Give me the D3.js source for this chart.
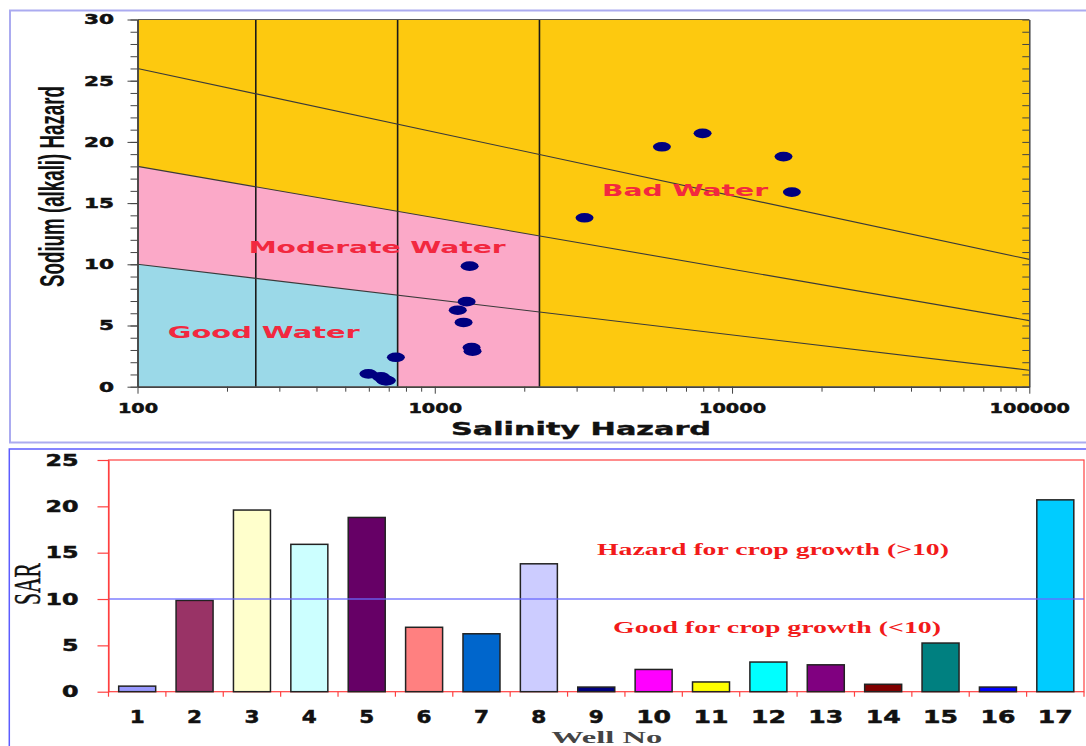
<!DOCTYPE html>
<html>
<head>
<meta charset="utf-8">
<script src="https://cdn.jsdelivr.net/npm/d3@7"></script>
<style>
body { margin: 0; background: #fff; }
svg { display: block; }
</style>
</head>
<body>
<svg id="chart"></svg>
<script>
// ---------- data ----------
var wells = ["1","2","3","4","5","6","7","8","9","10","11","12","13","14","15","16","17"];
var sar = [0.6, 9.85, 19.6, 15.9, 18.8, 6.95, 6.25, 13.8, 0.5, 2.4, 1.05, 3.2, 2.9, 0.8, 5.25, 0.5, 20.7];
var ec = [675, 1310, 5810, 15900, 14900, 1280, 1195, 3190, 690, 740, 598, 1330, 1340, 659, 1250, 682, 7960];
var barColors = ["#9999FF","#993366","#FFFFCC","#CCFFFF","#660066","#FF8080","#0066CC","#CCCCFF",
                 "#000080","#FF00FF","#FFFF00","#00FFFF","#800080","#800000","#008080","#0000FF","#00CCFF"];
var salinityBreaks = [250, 750, 2250];
var sodiumAt100 = [10, 18, 26];        // SAR of each class line at EC 100
var sodiumAt100000 = [1.35, 5.4, 10.4]; // SAR of each class line at EC 100000
var ecTicks = [100, 1000, 10000, 100000];
var sarTicksTop = [0, 5, 10, 15, 20, 25, 30];
var sarTicksBar = [0, 5, 10, 15, 20, 25];
var sarLimit = 10;

var svg = d3.select("#chart").attr("width", 1086).attr("height", 746);

// panel frames
svg.append("rect").attr("x", 10).attr("y", 10.5).attr("width", 1100).attr("height", 432)
  .attr("fill", "none").attr("stroke", "#ABABF0").attr("stroke-width", 2);
svg.append("rect").attr("x", 9.3).attr("y", 449).attr("width", 1100).attr("height", 400)
  .attr("fill", "none").attr("stroke", "#5C5CFF").attr("stroke-width", 1.5);

// ---------- upper: salinity / sodium diagram ----------
var x = d3.scaleLog().domain([100, 100000]).range([137.5, 1029.3]);
var y = d3.scaleLinear().domain([0, 30]).range([386.7, 19.5]);

var classLine = function (i, v) {
  var t = (Math.log10(v) - 2) / 3;
  return sodiumAt100[i] + (sodiumAt100000[i] - sodiumAt100[i]) * t;
};

var upper = svg.append("g");
upper.append("rect")
  .attr("x", x(100)).attr("y", y(30))
  .attr("width", x(100000) - x(100)).attr("height", y(0) - y(30))
  .attr("fill", "#FDC90F");

var area = d3.area().x(function (d) { return x(d[0]); })
  .y0(y(0)).y1(function (d) { return y(d[1]); });

upper.append("path")
  .attr("d", area([[100, classLine(1, 100)], [salinityBreaks[2], classLine(1, salinityBreaks[2])]]))
  .attr("fill", "#FBA9C8");
upper.append("path")
  .attr("d", area([[100, classLine(0, 100)], [salinityBreaks[1], classLine(0, salinityBreaks[1])]]))
  .attr("fill", "#9BD9E8");

upper.selectAll(".vbreak").data(salinityBreaks).enter().append("line")
  .attr("x1", function (d) { return x(d); }).attr("x2", function (d) { return x(d); })
  .attr("y1", y(0)).attr("y2", y(30))
  .attr("stroke", "#1a1a1a").attr("stroke-width", 1.6);

upper.selectAll(".sline").data([0, 1, 2]).enter().append("line")
  .attr("x1", x(100)).attr("x2", x(100000))
  .attr("y1", function (i) { return y(classLine(i, 100)); })
  .attr("y2", function (i) { return y(classLine(i, 100000)); })
  .attr("stroke", "#3a3a3a").attr("stroke-width", 1.1);

// zone labels
var zone = function (txt, ecv, sv, len) {
  upper.append("text")
    .attr("x", x(ecv)).attr("y", y(sv))
    .attr("text-anchor", "middle")
    .attr("font-family", "DejaVu Sans").attr("font-weight", "bold").attr("font-size", 16.5)
    .attr("fill", "#F2283F")
    .attr("textLength", len).attr("lengthAdjust", "spacingAndGlyphs")
    .text(txt);
};
zone("Good Water", 266, 3.95, 192);
zone("Moderate Water", 640, 10.9, 257);
zone("Bad Water", 6950, 15.6, 166);

// points
upper.selectAll("ellipse").data(wells).enter().append("ellipse")
  .attr("cx", function (d, i) { return x(ec[i]); })
  .attr("cy", function (d, i) { return y(sar[i]); })
  .attr("rx", 9).attr("ry", 4.8)
  .attr("fill", "#000080");

// axes
var styleDomain = function (g) {
  g.select(".domain").attr("stroke", "#444").attr("stroke-width", 1.5);
  g.selectAll(".tick line").attr("stroke", "#444");
};
var heavy = function (sel, size) {
  sel.attr("font-family", "DejaVu Sans").attr("font-weight", "bold").attr("font-size", size)
    .attr("fill", "#111").attr("stroke", "#111").attr("stroke-width", 0.5)
    .attr("lengthAdjust", "spacingAndGlyphs");
};

var minorY = d3.range(0, 31, 1);
svg.append("g").attr("transform", "translate(" + x(100) + ",0)")
  .call(d3.axisLeft(y).tickValues(minorY).tickFormat("").tickSize(7).tickSizeOuter(0))
  .call(styleDomain);
var yAx = svg.append("g").attr("transform", "translate(" + x(100) + ",0)")
  .call(d3.axisLeft(y).tickValues(sarTicksTop).tickSize(10).tickPadding(13.5).tickSizeOuter(0))
  .call(styleDomain);
yAx.selectAll("text").call(heavy, 14)
  .attr("textLength", function (d) { return String(d).length * 15; });

svg.append("g").attr("transform", "translate(" + x(100000) + ",0)")
  .call(d3.axisRight(y).tickValues(minorY).tickFormat("").tickSize(-7).tickSizeOuter(0))
  .call(styleDomain);

svg.append("line").attr("x1", x(100)).attr("x2", x(100000)).attr("y1", y(30)).attr("y2", y(30))
  .attr("stroke", "#555").attr("stroke-width", 1);

var minorX = [];
[100, 1000, 10000].forEach(function (b) {
  for (var k = 2; k <= 9; k++) minorX.push(b * k);
});
svg.append("g").attr("transform", "translate(0," + y(0) + ")")
  .call(d3.axisBottom(x).tickValues(minorX).tickFormat("").tickSize(5).tickSizeOuter(0))
  .call(styleDomain);
var xAx = svg.append("g").attr("transform", "translate(0," + y(0) + ")")
  .call(d3.axisBottom(x).tickValues(ecTicks).tickFormat(d3.format("d")).tickSize(7).tickPadding(9).tickSizeOuter(0))
  .call(styleDomain);
xAx.selectAll("text").call(heavy, 14.5)
  .attr("textLength", function (d) { return String(d).length * 13.4; });

svg.append("text")
  .attr("x", 581).attr("y", 435)
  .attr("text-anchor", "middle")
  .attr("font-family", "DejaVu Sans").attr("font-weight", "bold").attr("font-size", 18).attr("fill", "#111")
  .attr("stroke", "#111").attr("stroke-width", 0.4)
  .attr("textLength", 260).attr("lengthAdjust", "spacingAndGlyphs")
  .text("Salinity Hazard");

svg.append("text")
  .attr("transform", "translate(63.5,186.5) rotate(-90) scale(1,1.75)")
  .attr("text-anchor", "middle")
  .attr("font-family", "Liberation Sans").attr("font-weight", "bold").attr("font-size", 20).attr("fill", "#111")
  .attr("textLength", 201).attr("lengthAdjust", "spacingAndGlyphs")
  .text("Sodium (alkali) Hazard");

// ---------- bottom: SAR bar chart ----------
var xb = d3.scaleBand().domain(wells).range([108.5, 1084]).padding(0);
var yb = d3.scaleLinear().domain([0, 25]).range([691.7, 460]);
var barW = 37;

var bot = svg.append("g");
bot.append("rect")
  .attr("x", xb.range()[0]).attr("y", yb(25))
  .attr("width", xb.range()[1] - xb.range()[0]).attr("height", yb(0) - yb(25))
  .attr("fill", "none").attr("stroke", "#FF4040").attr("stroke-width", 1.2);

bot.selectAll(".bar").data(wells).enter().append("rect")
  .attr("x", function (d) { return xb(d) + xb.bandwidth() / 2 - barW / 2; })
  .attr("y", function (d, i) { return yb(sar[i]); })
  .attr("width", barW)
  .attr("height", function (d, i) { return yb(0) - yb(sar[i]); })
  .attr("fill", function (d, i) { return barColors[i]; })
  .attr("stroke", "#222").attr("stroke-width", 1.5);

bot.append("line")
  .attr("x1", xb.range()[0]).attr("x2", xb.range()[1])
  .attr("y1", yb(sarLimit)).attr("y2", yb(sarLimit))
  .attr("stroke", "#6A6AFF").attr("stroke-width", 1.6).attr("opacity", 0.85);

var yBAx = svg.append("g").attr("transform", "translate(" + xb.range()[0] + ",0)")
  .call(d3.axisLeft(yb).tickValues(sarTicksBar).tickSize(11).tickPadding(19).tickSizeOuter(0));
yBAx.select(".domain").attr("stroke", "#FF4040").attr("stroke-width", 1.2);
yBAx.selectAll(".tick line").attr("stroke", "#FF4040").attr("stroke-width", 1.2);
yBAx.selectAll("text").call(heavy, 16)
  .attr("textLength", function (d) { return String(d).length * 16.5; });

// boundary ticks under the categories
bot.selectAll(".btick").data(wells.concat(["end"])).enter().append("line")
  .attr("x1", function (d) { return d === "end" ? xb.range()[1] : xb(d); })
  .attr("x2", function (d) { return d === "end" ? xb.range()[1] : xb(d); })
  .attr("y1", yb(0)).attr("y2", yb(0) + 5)
  .attr("stroke", "#FF4040").attr("stroke-width", 1.2);

var xBAx = svg.append("g").attr("transform", "translate(0," + yb(0) + ")")
  .call(d3.axisBottom(xb).tickSize(0).tickPadding(18.5));
xBAx.select(".domain").remove();
xBAx.selectAll("text").call(heavy, 18)
  .attr("textLength", function (d) { return d.length === 1 ? 15 : 35; });

var serifNote = function (txt, cx, by, len) {
  bot.append("text")
    .attr("x", cx).attr("y", by)
    .attr("text-anchor", "middle")
    .attr("font-family", "Liberation Serif").attr("font-weight", "bold").attr("font-size", 17.5)
    .attr("fill", "#F21A1A")
    .attr("textLength", len).attr("lengthAdjust", "spacingAndGlyphs")
    .text(txt);
};
serifNote("Hazard for crop growth (>10)", 773, 555, 352);
serifNote("Good for crop growth (<10)", 777, 633.3, 328);

svg.append("text")
  .attr("transform", "translate(40,584) rotate(-90) scale(1,1.7)")
  .attr("text-anchor", "middle")
  .attr("font-family", "Liberation Serif").attr("font-size", 22).attr("fill", "#111")
  .attr("stroke", "#111").attr("stroke-width", 0.3)
  .attr("textLength", 42).attr("lengthAdjust", "spacingAndGlyphs")
  .text("SAR");

svg.append("text")
  .attr("x", 606.7).attr("y", 742.5)
  .attr("text-anchor", "middle")
  .attr("font-family", "Liberation Serif").attr("font-weight", "bold").attr("font-size", 16).attr("fill", "#444")
  .attr("textLength", 111).attr("lengthAdjust", "spacingAndGlyphs")
  .text("Well No");
</script>
</body>
</html>
